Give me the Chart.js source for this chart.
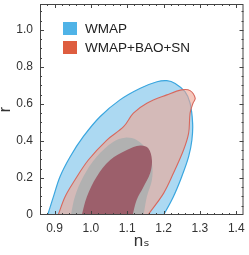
<!DOCTYPE html>
<html><head><meta charset="utf-8">
<script src="https://cdn.jsdelivr.net/npm/chart.js@4.4.0/dist/chart.umd.min.js"></script>
<style>html,body{margin:0;padding:0;background:#fff;}#wrap{width:249px;height:255px;}</style>
</head><body><div id="wrap"><canvas id="c" width="249" height="255"></canvas></div>
<script>
// ---- data ----
const nsTickValues = [0.9, 1.0, 1.1, 1.2, 1.3, 1.4];
const rTickValues = [0, 0.2, 0.4, 0.6, 0.8, 1.0];
const legendNames = ['WMAP', 'WMAP+BAO+SN'];
const legendColors = ['#4fb3e7', '#de5d3f'];

// WMAP 95% contour
const wmap95Ns = [0.872, 0.881, 0.897, 0.915, 0.943, 0.979, 1.025, 1.080, 1.136, 1.182, 1.209, 1.232, 1.259, 1.273, 1.280, 1.278, 1.269, 1.250, 1.227, 1.200, 1.185, 0.872];
const wmap95R  = [-0.05, 0, 0.099, 0.207, 0.315, 0.423, 0.531, 0.622, 0.685, 0.720, 0.726, 0.711, 0.666, 0.604, 0.496, 0.405, 0.315, 0.207, 0.099, 0, -0.05, -0.05];
// WMAP+BAO+SN 95% contour
const combo95Ns = [0.900, 0.910, 0.929, 0.956, 0.993, 1.044, 1.090, 1.117, 1.154, 1.209, 1.250, 1.273, 1.287, 1.281, 1.273, 1.269, 1.255, 1.227, 1.200, 1.157, 1.140, 0.900];
const combo95R  = [-0.05, 0, 0.099, 0.189, 0.297, 0.405, 0.477, 0.550, 0.604, 0.649, 0.676, 0.672, 0.631, 0.604, 0.550, 0.442, 0.351, 0.225, 0.117, 0, -0.05, -0.05];
// WMAP 68% contour
const wmap68Ns = [0.940, 0.945, 0.956, 0.979, 1.016, 1.062, 1.094, 1.126, 1.154, 1.168, 1.168, 1.154, 1.145, 1.140, 0.940];
const wmap68R  = [-0.05, 0, 0.099, 0.207, 0.315, 0.396, 0.418, 0.405, 0.351, 0.279, 0.189, 0.099, 0, -0.05, -0.05];
// WMAP+BAO+SN 68% contour
const combo68Ns = [0.968, 0.975, 0.989, 1.016, 1.053, 1.099, 1.136, 1.158, 1.168, 1.163, 1.145, 1.126, 1.115, 1.110, 0.968];
const combo68R  = [-0.05, 0, 0.099, 0.207, 0.297, 0.351, 0.375, 0.360, 0.297, 0.225, 0.153, 0.081, 0, -0.05, -0.05];

const pts = (xs, ys) => xs.map((x, i) => ({x: x, y: ys[i]}));

const FONT = "'Liberation Sans', Arial, 'DejaVu Sans', sans-serif";

const framePlugin = {
  id: 'frame',
  afterDatasetsDraw(chart) {
    const ctx = chart.ctx, a = chart.chartArea;
    const xs = chart.scales.x, ys = chart.scales.y;
    ctx.save();
    ctx.strokeStyle = '#444';
    ctx.lineWidth = 1;
    ctx.strokeRect(a.left + 0.5, a.top + 0.5, a.right - a.left - 1, a.bottom - a.top - 1);
    ctx.beginPath();
    for (let k = 43; k <= 71; k++) {
      const v = k / 50;
      const px = Math.round(xs.getPixelForValue(v)) + 0.5;
      if (px < a.left + 1 || px > a.right - 1) continue;
      const len = (k % 5 === 0) ? 4 : 2;
      ctx.moveTo(px, a.bottom); ctx.lineTo(px, a.bottom - len);
      ctx.moveTo(px, a.top); ctx.lineTo(px, a.top + len);
    }
    for (let k = 1; k <= 22; k++) {
      const v = k / 20;
      const py = Math.round(ys.getPixelForValue(v)) + 0.5;
      if (py < a.top + 1 || py > a.bottom - 1) continue;
      const len = (k % 4 === 0) ? 4 : 2;
      ctx.moveTo(a.left, py); ctx.lineTo(a.left + len, py);
      ctx.moveTo(a.right, py); ctx.lineTo(a.right - len, py);
    }
    ctx.stroke();
    ctx.font = '13.5px ' + FONT;
    ctx.textBaseline = 'middle';
    ctx.textAlign = 'left';
    for (let i = 0; i < legendNames.length; i++) {
      const bx = a.left + 23, by = a.top + 18 + i * 19;
      ctx.fillStyle = legendColors[i];
      ctx.fillRect(bx, by, 14, 13);
      ctx.fillStyle = '#222';
      ctx.fillText(legendNames[i], bx + 22, by + 7);
    }
    ctx.restore();
  }
};

new Chart(document.getElementById('c'), {
  type: 'scatter',
  data: {
    datasets: [
      { label: 'WMAP 95%', data: pts(wmap95Ns, wmap95R), order: 3, showLine: true, fill: 'shape',
        backgroundColor: '#acd9f2', borderColor: '#3aa6df', borderWidth: 1.2, tension: 0.35, pointRadius: 0 },
      { label: 'WMAP+BAO+SN 95%', data: pts(combo95Ns, combo95R), order: 2, showLine: true, fill: 'shape',
        backgroundColor: 'rgba(238,166,148,0.62)', borderColor: '#d8685d', borderWidth: 1.1, tension: 0.35, pointRadius: 0 },
      { label: 'WMAP 68%', data: pts(wmap68Ns, wmap68R), order: 1, showLine: true, fill: 'shape',
        backgroundColor: '#b1b1b1', borderColor: 'rgba(0,0,0,0)', borderWidth: 0, tension: 0.35, pointRadius: 0 },
      { label: 'WMAP+BAO+SN 68%', data: pts(combo68Ns, combo68R), order: 0, showLine: true, fill: 'shape',
        backgroundColor: '#9c5f6b', borderColor: 'rgba(0,0,0,0)', borderWidth: 0, tension: 0.35, pointRadius: 0 }
    ]
  },
  options: {
    responsive: false,
    animation: false,
    devicePixelRatio: 1,
    layout: { padding: { left: 0, right: 5.5, top: 4, bottom: 0 } },
    plugins: { legend: { display: false }, tooltip: { enabled: false } },
    scales: {
      x: {
        type: 'linear', min: 0.86, max: 1.42,
        afterBuildTicks: s => { s.ticks = nsTickValues.map(v => ({value: v})); },
        afterFit: s => { s.height = 40; s.paddingLeft = 0; s.paddingRight = 0; },
        grid: { display: false, drawTicks: false },
        border: { display: false },
        ticks: { padding: 6, color: '#333', font: { family: FONT, size: 12 }, callback: v => Number(v).toFixed(1), maxRotation: 0, autoSkip: false },
        title: { display: true, text: 'nₛ', color: '#333', font: { family: FONT, size: 17 }, padding: { top: 0, bottom: 3 } }
      },
      y: {
        type: 'linear', min: 0, max: 1.14,
        afterBuildTicks: s => { s.ticks = rTickValues.map(v => ({value: v})); },
        afterFit: s => { s.width = 40; s.paddingTop = 0; s.paddingBottom = 0; },
        grid: { display: false, drawTicks: false },
        border: { display: false },
        ticks: { padding: 7, color: '#333', font: { family: FONT, size: 12 }, callback: v => (v === 0 ? '0' : Number(v).toFixed(1)), autoSkip: false },
        title: { display: true, text: 'r', color: '#333', font: { family: FONT, size: 16, lineHeight: 0.7 }, padding: 0 }
      }
    }
  },
  plugins: [framePlugin]
});
</script>
</body></html>
